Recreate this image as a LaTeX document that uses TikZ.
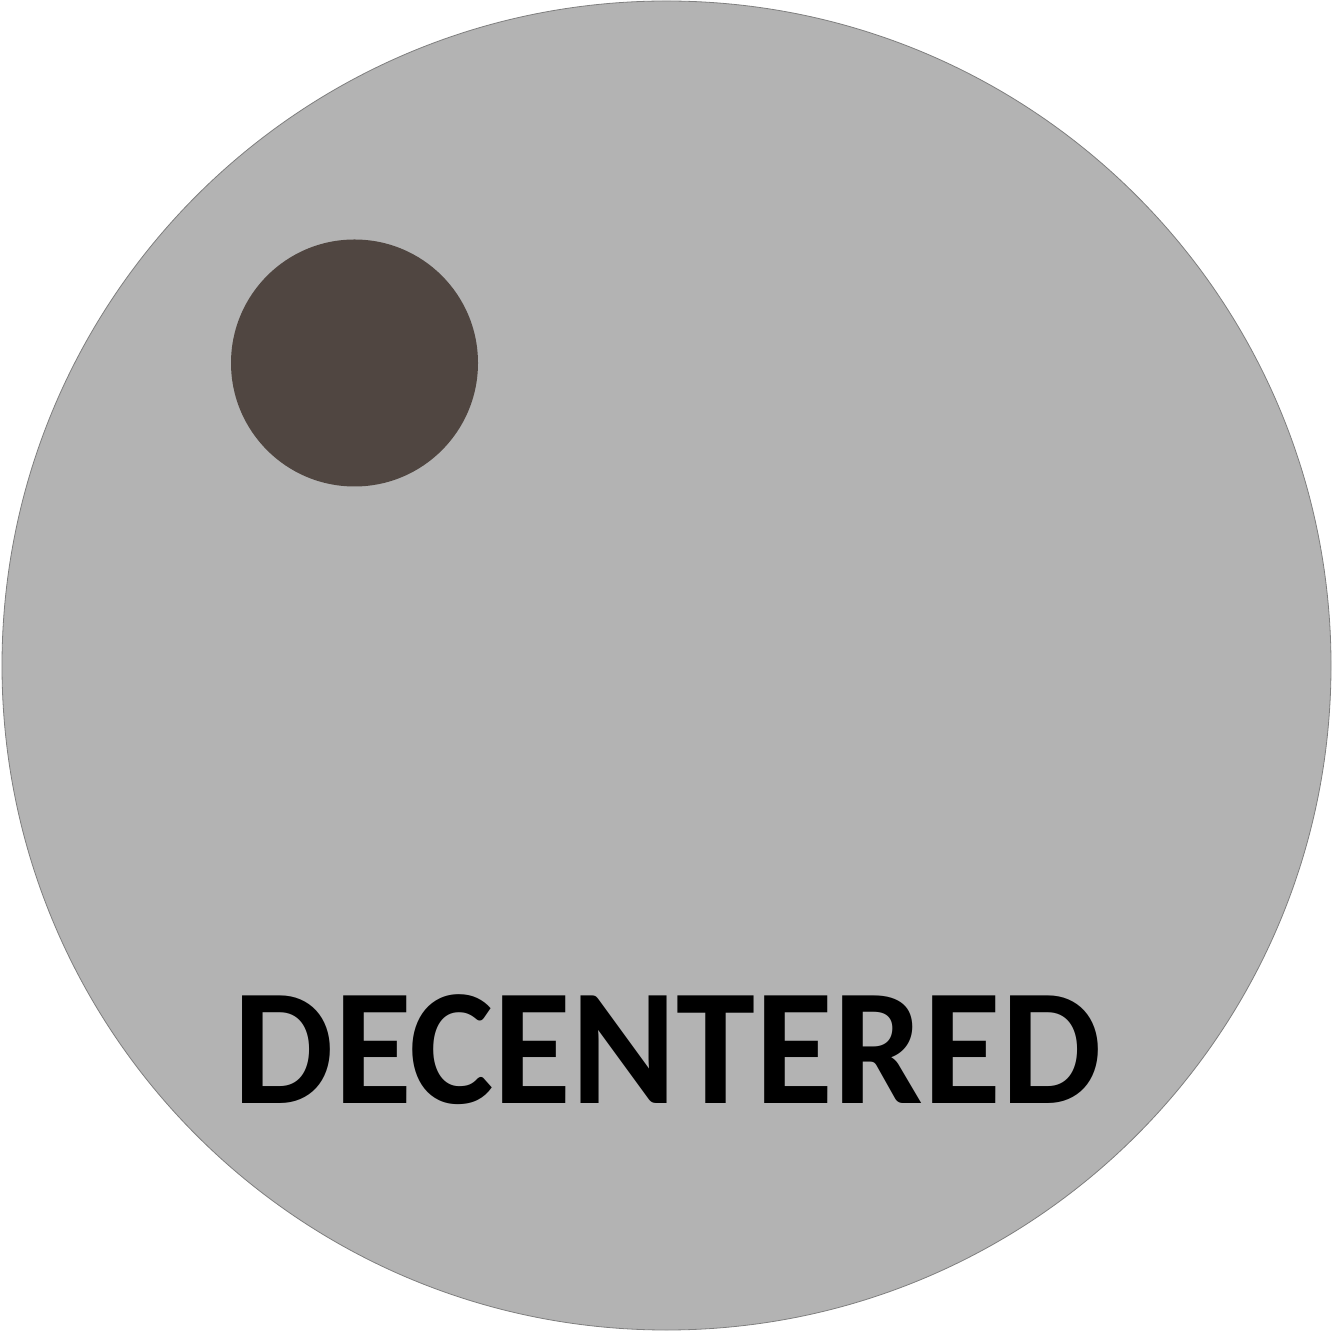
\documentclass[tikz,border=0pt]{standalone}
\usepackage{fontspec}
\setmainfont{Carlito}
\definecolor{disk}{HTML}{B3B3B3}
\definecolor{rim}{HTML}{7F7F7F}
\definecolor{dot}{HTML}{504641}
\begin{document}
\begin{tikzpicture}[x=1pt,y=1pt,
  bigdisk/.style={circle,fill=disk,draw=rim,line width=0.8pt,minimum size=1329pt,inner sep=0pt},
  smalldot/.style={circle,fill=dot,draw=none,minimum size=247pt,inner sep=0pt},
  label/.style={font=\fontsize{166}{166}\selectfont\bfseries,inner sep=0pt,anchor=base}]
\useasboundingbox (0,0) rectangle (1332,1331);
\node[bigdisk] (disk) at (666.5,665.5) {};
\node[smalldot] (dot) at (354.5,968) {};
\node[label] (txt) at (667.5,228) {\scalebox{0.9605}[1]{DECENTERED}};
\end{tikzpicture}
\end{document}
